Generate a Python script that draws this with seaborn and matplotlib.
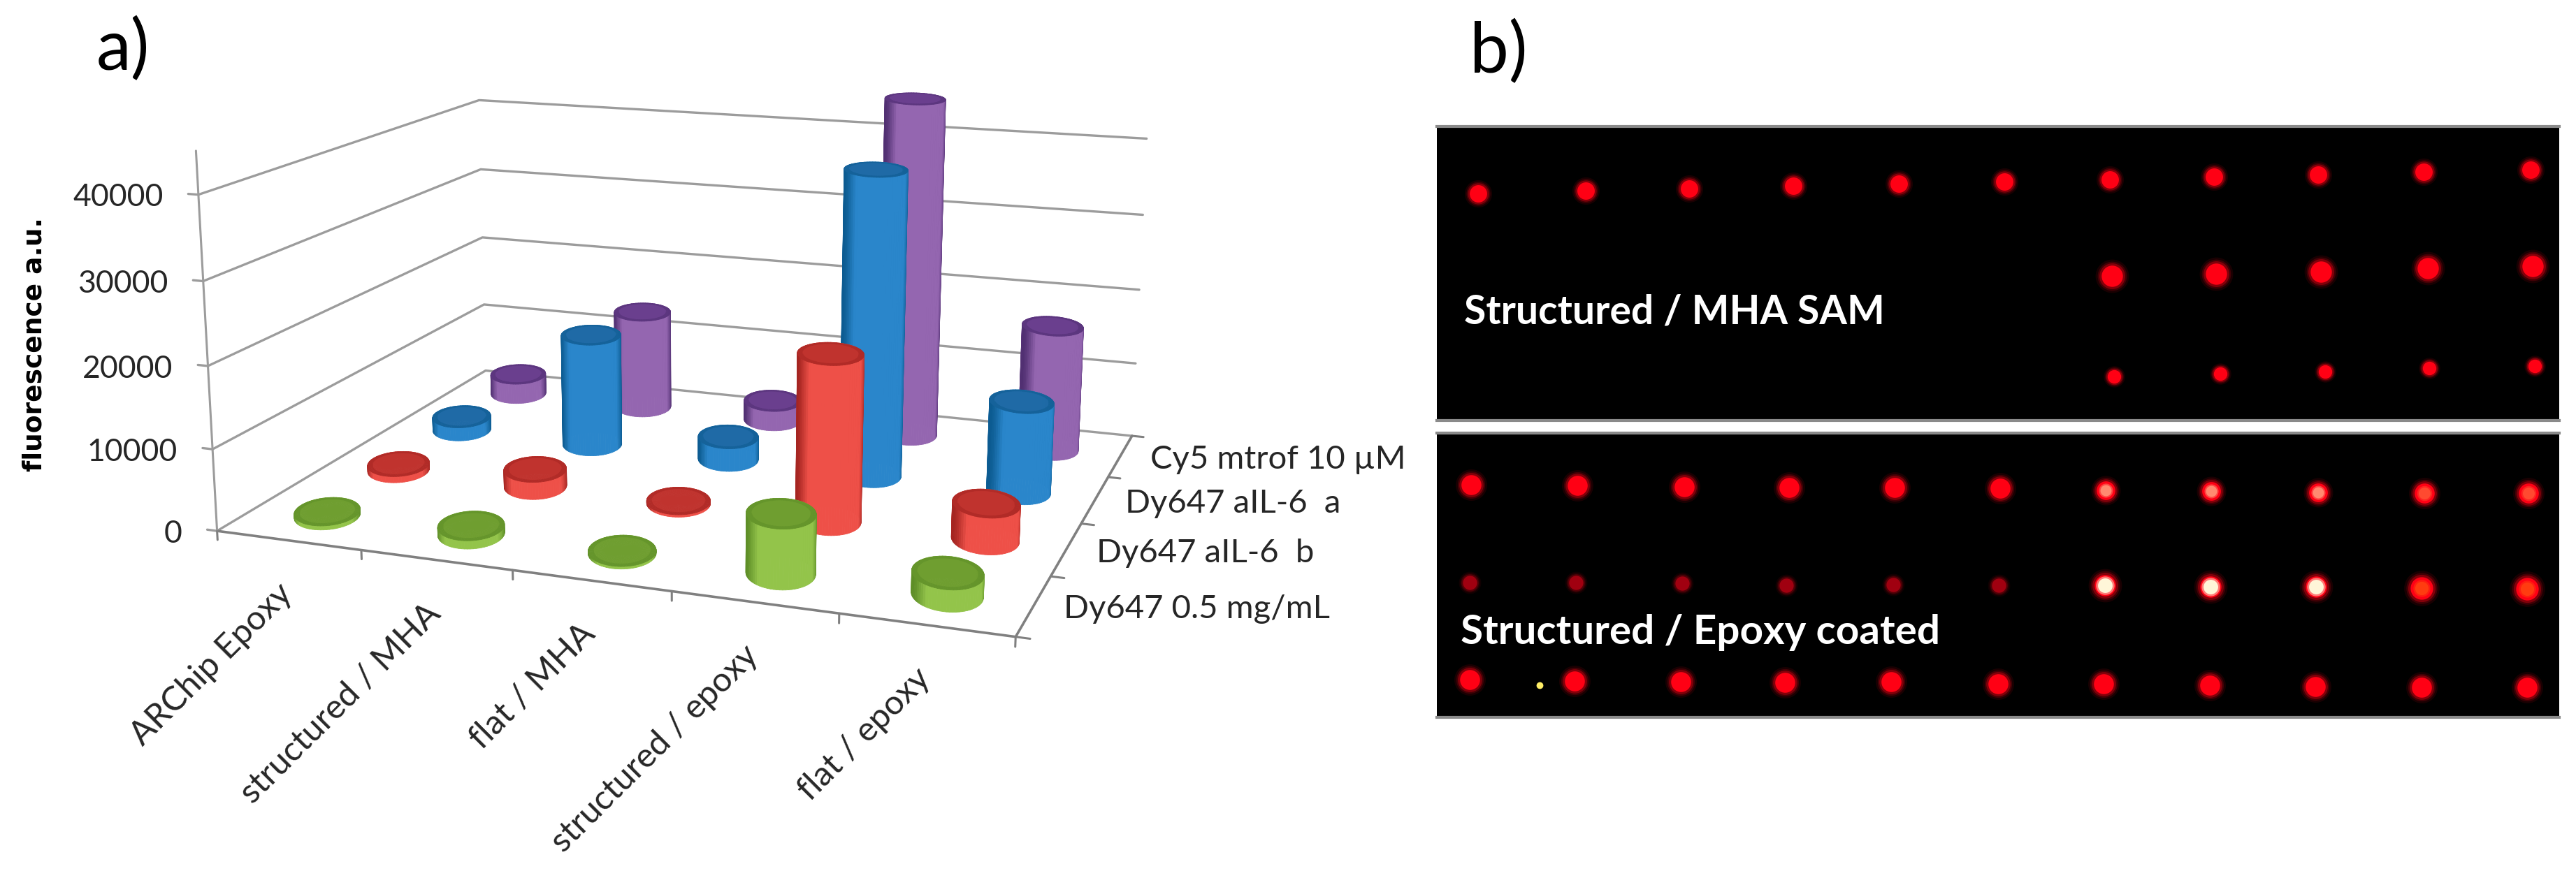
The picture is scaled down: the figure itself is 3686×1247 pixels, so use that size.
import numpy as np
import seaborn as sns
import matplotlib
matplotlib.use('Agg')
import matplotlib.pyplot as plt
from matplotlib.colors import to_rgba
from mpl_toolkits.mplot3d import proj3d

# panel a values
categories = ['ARChip Epoxy', 'structured / MHA', 'flat / MHA', 'structured / epoxy', 'flat / epoxy']
series = ['Dy647 0.5 mg/mL', 'Dy647 aIL-6  b', 'Dy647 aIL-6  a', 'Cy5 mtrof 10 µM']
dy647_05 = [500, 1000, 300, 7000, 2500]
dy647_b = [800, 2200, 300, 20500, 4400]
dy647_a = [1800, 14800, 3000, 39000, 11500]
cy5 = [2800, 13500, 2700, 45000, 16500]
z_ticks = [0, 10000, 20000, 30000, 40000]

# panel b spots, in pixels of the scan
top_row1_x = [2115, 2269, 2417, 2566, 2717, 2868, 3019, 3168, 3317, 3468, 3621]
top_row1_y = [277, 273, 270, 266, 263, 260, 257, 253, 250, 246, 243]
top_row2_x = [3022, 3171, 3321, 3474, 3624]
top_row2_y = [395, 392, 389, 384, 381]
top_row3_x = [3025, 3177, 3327, 3476, 3627]
top_row3_y = [539, 535, 532, 527, 524]
low_row1_x = [2105, 2257, 2410, 2560, 2711, 2862, 3013, 3164, 3317, 3469, 3618]
low_row1_y = [694, 695, 697, 698, 698, 699, 702, 703, 705, 706, 706]
low_row2_x = [2103, 2255, 2407, 2556, 2709, 2860, 3012, 3163, 3314, 3465, 3616]
low_row2_y = [834, 834, 835, 838, 837, 838, 838, 840, 840, 842, 843]
low_row3_x = [2103, 2253, 2405, 2554, 2706, 2859, 3010, 3162, 3313, 3465, 3616]
low_row3_y = [973, 975, 976, 977, 976, 979, 979, 981, 983, 984, 984]

FIG_W, FIG_H = 3686, 1247
sns.set_theme(style='white')
plt.rcParams['font.family'] = ['Lato', 'DejaVu Sans']

fig = plt.figure(figsize=(FIG_W / 100, FIG_H / 100), dpi=100)

# 3D panel, camera fitted to the wall corners of the original
ax = fig.add_axes([262.46 / FIG_W, (FIG_H - 1182.68) / FIG_H, 1451.16 / FIG_W, 1451.16 / FIG_H],
                  projection='3d', computed_zorder=False)
ax.set_xlim(0, 5, view_margin=0)
ax.set_ylim(0, 4, view_margin=0)
ax.set_zlim(0, 45000, view_margin=0)
ax.view_init(14.06, -70.27, -0.024)
ax.set_proj_type('persp', focal_length=0.4082)
ax.set_box_aspect((5.1387, 3.9951, 2.4476))
ax.set_axis_off()

grid_c = '#9c9c9c'
axis_c = '#808080'
for z in z_ticks:
    ax.plot([-0.07, 0, 0, 5], [0, 0, 4, 4], [z, z, z, z], color=grid_c, lw=2.4, zorder=1)
ax.plot([0, 5, 5], [0, 0, 4], [0, 0, 0], color=axis_c, lw=2.6, zorder=1)
ax.plot([0, 0], [0, 0], [0, 45000], color=grid_c, lw=2.2, zorder=1)
for i in range(len(categories) + 1):
    ax.plot([i, i], [0, 0], [0, -1100], color=axis_c, lw=2.2, zorder=1)
for j in range(len(series) + 1):
    ax.plot([5, 5.08], [j, j], [0, 0], color=axis_c, lw=2.2, zorder=1)

# center, edge, top
bar_colors = [('#93c44a', '#5c8c26', '#6f9e30'),
              ('#ee5048', '#a32420', '#c0332e'),
              ('#2a86cb', '#0b5a8f', '#1f6aa6'),
              ('#9466b0', '#4f2e70', '#6a3f8e')]
heights = [dy647_05, dy647_b, dy647_a, cy5]
radius = 0.205
depth_scale = 1.35  # tops are rounder towards the camera than the fitted view gives
theta = np.linspace(0, 2 * np.pi, 73)
cam = np.deg2rad(-70.27)
to_cam = np.array([np.cos(cam), np.sin(cam)])
across = np.array([-to_cam[1], to_cam[0]])


def ring(x, y, scale):
    px = x + radius * scale * (np.cos(theta) * across[0] + depth_scale * np.sin(theta) * to_cam[0])
    py = y + radius * scale * (np.cos(theta) * across[1] + depth_scale * np.sin(theta) * to_cam[1])
    return px, py


def draw_cylinder(x, y, h, colors, order):
    center, edge, top = colors
    ramp = np.array([to_rgba(c) for c in sns.blend_palette([center, center, edge], 64)])
    mid = (theta[:-1] + theta[1:]) / 2
    idx = (np.abs(np.cos(mid + np.deg2rad(8))) ** 2.5 * 63).astype(int)
    wall_x, wall_y = ring(x, y, 1.0)
    X = np.vstack([wall_x, wall_x])
    Y = np.vstack([wall_y, wall_y])
    Z = np.vstack([np.zeros_like(theta), np.full_like(theta, h)])
    ax.plot_surface(X, Y, Z, facecolors=ramp[idx][np.newaxis, :, :], rstride=1, cstride=1,
                    shade=False, linewidth=0.6, zorder=order)
    grids = [ring(x, y, s) for s in (0, 0.84, 1.0)]
    X = np.vstack([g[0] for g in grids])
    Y = np.vstack([g[1] for g in grids])
    Z = np.full_like(X, h)
    fc = np.zeros((2, 72, 4))
    fc[0] = to_rgba(top)
    fc[1] = to_rgba(sns.blend_palette([top, edge], 3)[1])
    ax.plot_surface(X, Y, Z, facecolors=fc, rstride=1, cstride=1, shade=False, linewidth=0.6, zorder=order + 0.5)


bars = []
for j, vals in enumerate(heights):
    for i, h in enumerate(vals):
        bars.append((to_cam[0] * (i + 0.5) + to_cam[1] * (j + 0.5), i, j, h))
bars.sort()
for k, (_, i, j, h) in enumerate(bars):
    draw_cylinder(i + 0.5, j + 0.5, h, bar_colors[j], 10 + k)


def label3d(text, x, y, z, dx, dy, **kw):
    X, Y, _ = proj3d.proj_transform(x, y, z, ax.get_proj())
    ax.annotate(text, (float(X), float(Y)), xytext=(dx, dy), textcoords='offset points',
                annotation_clip=False, color='#262626', **kw)


for z in z_ticks:
    label3d(str(z), 0, 0, z, -36, -3, fontsize=32, ha='right', va='center')
for i, name in enumerate(categories):
    label3d(name, i + 0.5, 0, 0, -1, -50, fontsize=35, rotation=45,
            ha='right', va='center', rotation_mode='anchor')
for j, name in enumerate(series):
    label3d(name, 5, j + 0.5, 0, 31, -4, fontsize=34, ha='left', va='center')

fig.text(50 / FIG_W, 1 - 493 / FIG_H, 'fluorescence a.u.', rotation=90, ha='center', va='center',
         fontsize=27, fontweight='bold', family='DejaVu Sans', color='black')
fig.text(138 / FIG_W, 1 - 100 / FIG_H, 'a)', fontsize=72, color='black', ha='left', va='baseline')
fig.text(2103 / FIG_W, 1 - 104 / FIG_H, 'b)', fontsize=72, color='black', ha='left', va='baseline')


# scan panels
def scan_axes(top, bottom):
    a = fig.add_axes([2056 / FIG_W, 1 - bottom / FIG_H, (3662 - 2056) / FIG_W, (bottom - top) / FIG_H])
    a.set_facecolor('black')
    a.set_xlim(2056, 3662)
    a.set_ylim(bottom, top)
    a.set_xticks([])
    a.set_yticks([])
    for side in ['left', 'right']:
        a.spines[side].set_visible(False)
    for side in ['top', 'bottom']:
        a.spines[side].set_color('#8a8a8a')
        a.spines[side].set_linewidth(3)
    return a


def spots(a, xs, ys, size, core='#ff0014', centre=None, centre_size=0.3):
    size_pt = (size * 0.72) ** 2
    # soft edge: a few faint larger discs under the core
    for grow, alpha in [(2.1, 0.10), (1.6, 0.18), (1.25, 0.35)]:
        sns.scatterplot(x=xs, y=ys, s=size_pt * grow, color=core, alpha=alpha, linewidth=0, ax=a, legend=False)
    sns.scatterplot(x=xs, y=ys, s=size_pt * 0.85, color=core, linewidth=0, ax=a, legend=False)
    if centre is not None:
        sns.scatterplot(x=xs, y=ys, s=size_pt * centre_size * 1.6, color=centre, alpha=0.5, linewidth=0, ax=a, legend=False)
        sns.scatterplot(x=xs, y=ys, s=size_pt * centre_size, color=centre, linewidth=0, ax=a, legend=False)


top_ax = scan_axes(181, 602)
spots(top_ax, top_row1_x, top_row1_y, 27)
spots(top_ax, top_row2_x, top_row2_y, 33)
spots(top_ax, top_row3_x, top_row3_y, 21)
top_ax.text(2095, 463, 'Structured / MHA SAM', color='white', fontsize=41, fontweight='bold', ha='left', va='baseline')

low_ax = scan_axes(620, 1027)
spots(low_ax, low_row1_x[:6], low_row1_y[:6], 31)
spots(low_ax, low_row1_x[6:9], low_row1_y[6:9], 29, centre='#ff8a70')
spots(low_ax, low_row1_x[9:], low_row1_y[9:], 31, centre='#ff4a30')
spots(low_ax, low_row2_x[:6], low_row2_y[:6], 22, core='#a00010')
spots(low_ax, low_row2_x[6:9], low_row2_y[6:9], 33, centre='#fff6d8', centre_size=0.4)
spots(low_ax, low_row2_x[9:], low_row2_y[9:], 35, centre='#ff3c10')
spots(low_ax, low_row3_x, low_row3_y, 31)
sns.scatterplot(x=[2203], y=[981], s=50, color='#ffee66', linewidth=0, ax=low_ax, legend=False)
low_ax.text(2090, 922, 'Structured / Epoxy coated', color='white', fontsize=42, fontweight='bold', ha='left', va='baseline')

fig.savefig('out.png', dpi=100, facecolor='white')
